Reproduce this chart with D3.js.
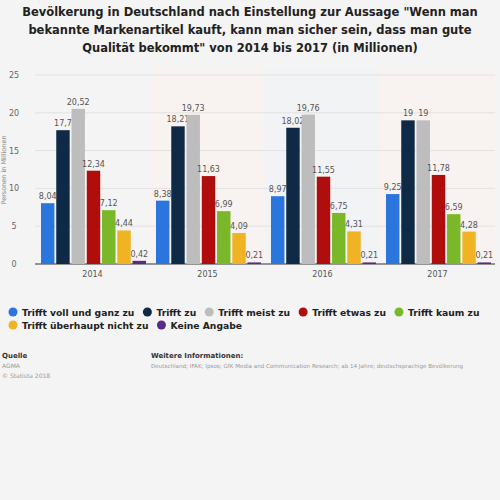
<!DOCTYPE html>
<html lang="de">
<head>
<meta charset="UTF-8">
<script src="https://d3js.org/d3.v7.min.js"></script>
<style>
  body { margin: 0; background: #f4f4f4; font-family: "DejaVu Sans", sans-serif; }
  svg { display: block; }
</style>
</head>
<body>
<svg width="500" height="500"></svg>
<script>
const years = ["2014", "2015", "2016", "2017"];
const series = ["Trifft voll und ganz zu", "Trifft zu", "Trifft meist zu", "Trifft etwas zu",
                "Trifft kaum zu", "Trifft überhaupt nicht zu", "Keine Angabe"];
const colors = ["#2a76dd", "#0f2a47", "#bdbdbd", "#b00d0d", "#7ab829", "#f0b323", "#5a2a8a"];
const values = [
  [8.04, 8.38, 8.97, 9.25],
  [17.7, 18.21, 18.02, 19],
  [20.52, 19.73, 19.76, 19],
  [12.34, 11.63, 11.55, 11.78],
  [7.12, 6.99, 6.75, 6.59],
  [4.44, 4.09, 4.31, 4.28],
  [0.42, 0.21, 0.21, 0.21]
];
const yTicks = [0, 5, 10, 15, 20, 25];
const bandTints = ["#f4f4f4", "#f8f3f0", "#f2f3f5", "#f8f3f0"];

const svg = d3.select("svg");
const fmt = v => String(v).replace(".", ",");

const title = ["Bevölkerung in Deutschland nach Einstellung zur Aussage \"Wenn man",
  "bekannte Markenartikel kauft, kann man sicher sein, dass man gute",
  "Qualität bekommt\" von 2014 bis 2017 (in Millionen)"];
svg.selectAll(".title").data(title).enter().append("text")
  .attr("x", 250).attr("y", (d, i) => 16 + i * 18)
  .attr("text-anchor", "middle").attr("font-size", 11.5).attr("font-weight", "bold")
  .attr("fill", "#222").text(d => d);

const x = d3.scaleBand().domain(years).range([35, 495]);
const xi = d3.scaleBand().domain(series).range([6, x.bandwidth() - 4]).paddingInner(0.12);
const y = d3.scaleLinear().domain([0, 25]).range([264, 75]);

svg.selectAll(".tint").data(years).enter().append("rect")
  .attr("x", d => x(d)).attr("y", 68).attr("width", x.bandwidth()).attr("height", 196)
  .attr("fill", (d, i) => bandTints[i]);

svg.selectAll(".grid").data(yTicks).enter().append("line")
  .attr("x1", 35).attr("x2", 495).attr("y1", d => y(d)).attr("y2", d => y(d))
  .attr("stroke", d => d === 0 ? "#333" : "#e2e2e2").attr("stroke-width", 1);

svg.selectAll(".ytick").data(yTicks).enter().append("text")
  .attr("x", 14).attr("y", d => y(d) + 3).attr("text-anchor", "middle")
  .attr("font-size", 8).attr("fill", "#666").text(d => d);

svg.append("text").attr("transform", "translate(6,170) rotate(-90)")
  .attr("text-anchor", "middle").attr("font-size", 6.5).attr("fill", "#888")
  .text("Personen in Millionen");

svg.selectAll(".xtick").data(years).enter().append("text")
  .attr("x", d => x(d) + x.bandwidth() / 2).attr("y", 277).attr("text-anchor", "middle")
  .attr("font-size", 8).attr("fill", "#555").text(d => d);

series.forEach((s, si) => {
  const g = svg.append("g");
  g.selectAll("rect").data(values[si]).enter().append("rect")
    .attr("x", (d, i) => x(years[i]) + xi(s)).attr("width", xi.bandwidth())
    .attr("y", d => y(d)).attr("height", d => y(0) - y(d))
    .attr("fill", colors[si]);
  g.selectAll("text").data(values[si]).enter().append("text")
    .attr("x", (d, i) => x(years[i]) + xi(s) + xi.bandwidth() / 2)
    .attr("y", d => y(d) - 4).attr("text-anchor", "middle")
    .attr("font-size", 8).attr("fill", "#555").text(d => fmt(d));
});

// legend
const legendRows = [[0, 1, 2, 3, 4], [5, 6]];
legendRows.forEach((row, r) => {
  let lx = 13;
  row.forEach(si => {
    const ly = 312 + r * 13;
    svg.append("circle").attr("cx", lx).attr("cy", ly).attr("r", 4.5).attr("fill", colors[si]);
    const t = svg.append("text").attr("x", lx + 9).attr("y", ly + 3.5)
      .attr("font-size", 9.2).attr("font-weight", "bold").attr("fill", "#222").text(series[si]);
    lx += t.node().getComputedTextLength() + 22;
  });
});

// footer
svg.append("text").attr("x", 2).attr("y", 358).attr("font-size", 7).attr("font-weight", "bold").attr("fill", "#333").text("Quelle");
svg.append("text").attr("x", 2).attr("y", 368).attr("font-size", 6).attr("fill", "#999").text("AGMA");
svg.append("text").attr("x", 2).attr("y", 378).attr("font-size", 6).attr("fill", "#999").text("© Statista 2018");
svg.append("text").attr("x", 151).attr("y", 358).attr("font-size", 7).attr("font-weight", "bold").attr("fill", "#333").text("Weitere Informationen:");
svg.append("text").attr("x", 151).attr("y", 368).attr("font-size", 5.6).attr("fill", "#999")
  .text("Deutschland; IFAK; Ipsos; GfK Media and Communication Research; ab 14 Jahre; deutschsprachige Bevölkerung");
</script>
</body>
</html>
